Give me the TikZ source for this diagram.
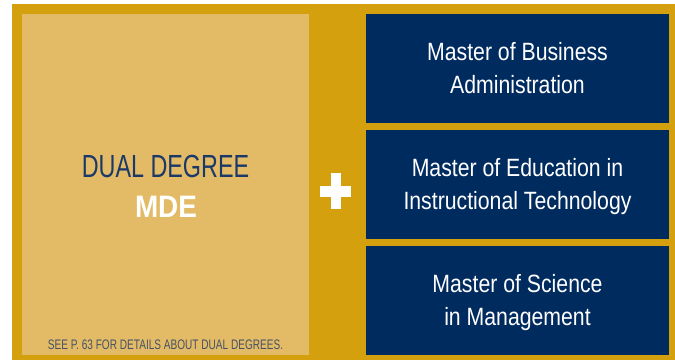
\documentclass[tikz,border=0pt]{standalone}
\usepackage{fontspec}
\newfontfamily\condfont[FakeStretch=0.85]{Liberation Sans}
\newfontfamily\capsfont[FakeStretch=0.73]{Liberation Sans}
\newfontfamily\boldfont[FakeStretch=0.9]{Liberation Sans Bold}
\usepackage{xcolor}
\definecolor{gold}{RGB}{212,160,14}
\definecolor{sand}{RGB}{227,187,102}
\definecolor{navy}{RGB}{0,43,95}
\definecolor{ink}{RGB}{26,56,104}
\definecolor{slate}{RGB}{70,82,100}

\begin{document}
\begin{tikzpicture}[x = 1pt, y = -1pt,
  navybox/.style = {fill = navy, minimum width = 303pt, minimum height = 109pt,
    inner sep = 0pt, text = white, align = center,
    execute at begin node = \strut, execute at end node = \strut,
    font = \condfont\fontsize{25}{33}\selectfont}]
\useasboundingbox (0,0) rectangle (675,360);
\fill [color = gold] (12,4) rectangle (675,360);
\fill [color = sand] (22,14) rectangle (309,355);
% left box
\node [anchor = base, text = ink, font = \capsfont\fontsize{32}{32}\selectfont] (dual) at (165.5,177) {DUAL DEGREE};
\node [anchor = base, text = white, font = \boldfont\fontsize{31}{31}\selectfont] (mde) at (166,217) {MDE};
\node [anchor = base, text = slate, font = \capsfont\fontsize{13.8}{14}\selectfont] (note) at (165.5,349) {SEE P. 63 FOR DETAILS ABOUT DUAL DEGREES.};
% plus
\fill [white] (320,186) rectangle (351,197);
\fill [white] (331,173) rectangle (340.5,209);
% right boxes
\node [navybox] (mba) at (517.5,68.5) {};
\node [navybox] (med) at (517.5,184.5) {};
\node [navybox] (msm) at (517.5,300.5) {};
\node [navybox, fill = none, yshift = -4pt] (mbatext) at (mba) {Master of Business\\Administration};
\node [navybox, fill = none, yshift = -4pt] (medtext) at (med) {Master of Education in\\Instructional Technology};
\node [navybox, fill = none, yshift = -4pt] (msmtext) at (msm) {Master of Science\\in Management};
\end{tikzpicture}
\end{document}
